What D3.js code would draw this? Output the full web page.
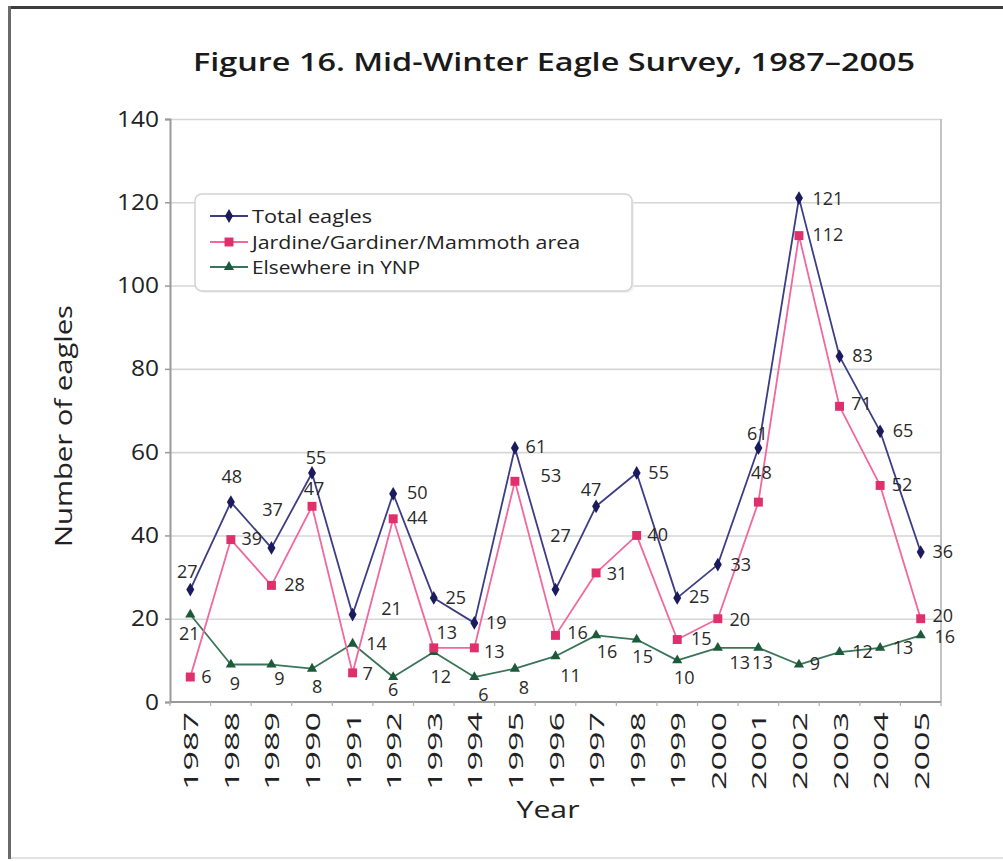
<!DOCTYPE html>
<html>
<head>
<meta charset="utf-8">
<script src="https://cdn.jsdelivr.net/npm/d3@7"></script>
<style>
  html, body { margin: 0; padding: 0; background: #fff; }
  svg { display: block; font-family: "Open Sans", "DejaVu Sans", sans-serif; }
</style>
</head>
<body>
<svg id="chart" width="1003" height="861"></svg>
<script>
// ---------- data ----------
const years = ["1987","1988","1989","1990","1991","1992","1993","1994","1995","1996","1997","1998","1999","2000","2001","2002","2003","2004","2005"];
const totalEagles = [27,48,37,55,21,50,25,19,61,27,47,55,25,33,61,121,83,65,36];
const jardineArea = [6,39,28,47,7,44,13,13,53,16,31,40,15,20,48,112,71,52,20];
const elsewhereYNP = [21,9,9,8,14,6,12,6,8,11,16,15,10,13,13,9,12,13,16];
const yTickValues = [0,20,40,60,80,100,120,140];
const seriesNames = ["Total eagles","Jardine/Gardiner/Mammoth area","Elsewhere in YNP"];
const titleText = "Figure 16. Mid-Winter Eagle Survey, 1987\u20132005";
const yAxisTitle = "Number of eagles";
const xAxisTitle = "Year";

// label placement (offset of label centre from its marker, px)
const totalLabelOffsets = [[-3,-19],[1,-26],[1,-39],[4,-16],[39,-7],[24,-2],[22,-1],[22,-1],[21,-2],[5,-55],[-5,-17],[22,-1],[22,-2],[23,-1],[-1,-15],[29,0],[23,-1],[23,-1],[22,-1]];
const jardineLabelOffsets = [[16,-1],[21,-2],[23,-1],[2,-18],[15,0],[24,-2],[13,-16],[20,3],[36,-6],[22,-3],[21,0],[21,-1],[24,-2],[22,0],[3,-30],[29,-2],[22,-3],[22,-1],[22,-4]];
const elsewhereLabelOffsets = [[-1,18],[4,18],[8,13],[5,17],[24,-1],[0,12],[7,24],[9,17],[9,18],[15,19],[11,16],[6,16],[7,17],[22,14],[4,14],[16,-2],[23,-1],[23,-1],[24,1]];

// ---------- layout ----------
const plot = {left: 170, right: 941, top: 119, bottom: 702};
const svg = d3.select("#chart");

function fit(sel, w) { sel.attr("textLength", w).attr("lengthAdjust", "spacingAndGlyphs"); }

// outer frame
svg.append("rect").attr("x", 8).attr("y", 6).attr("width", 995).attr("height", 3).attr("fill", "#3d3d3d");
svg.append("rect").attr("x", 8).attr("y", 6).attr("width", 3).attr("height", 853).attr("fill", "#6a6a6a");
svg.append("rect").attr("x", 11).attr("y", 857).attr("width", 992).attr("height", 2).attr("fill", "#e2e2e2");

const x = d3.scalePoint().domain(years).range([plot.left, plot.right]).padding(0.5);
const y = d3.scaleLinear().domain([0, 140]).range([plot.bottom, plot.top]);

// gridlines
svg.append("g")
  .attr("transform", `translate(${plot.left},0)`)
  .call(d3.axisLeft(y).tickValues(yTickValues.filter(v => v > 0)).tickSize(-(plot.right - plot.left)).tickFormat(""))
  .call(g => g.select(".domain").remove())
  .call(g => g.selectAll("line").attr("stroke", "#d6d6d6").attr("stroke-width", 1.6));

// right frame line
svg.append("line").attr("x1", plot.right).attr("x2", plot.right).attr("y1", plot.top).attr("y2", plot.bottom)
  .attr("stroke", "#c4c4c4").attr("stroke-width", 2);

// y axis
const yAxis = svg.append("g")
  .attr("transform", `translate(${plot.left},0)`)
  .call(d3.axisLeft(y).tickValues(yTickValues).tickSize(5).tickPadding(6));
yAxis.select(".domain").attr("stroke", "#9a9a9a").attr("stroke-width", 2);
yAxis.selectAll(".tick line").attr("stroke", "#9a9a9a").attr("stroke-width", 1.5);
yAxis.selectAll(".tick text")
  .attr("font-size", 22).attr("fill", "#222").attr("font-family", "Open Sans, sans-serif")
  .each(function(d) { fit(d3.select(this), String(d).length * 14); });

// x axis
const xAxis = svg.append("g")
  .attr("transform", `translate(0,${plot.bottom})`)
  .call(d3.axisBottom(x).tickSize(0).tickPadding(0));
xAxis.select(".domain").attr("stroke", "#9a9a9a").attr("stroke-width", 2)
  .attr("d", `M${plot.left},0H${plot.right}`);
xAxis.selectAll(".tick text")
  .attr("font-size", 19.5).attr("fill", "#222").attr("font-family", "Open Sans, sans-serif")
  .attr("transform", "rotate(-90)")
  .attr("text-anchor", "end")
  .attr("dominant-baseline", "central")
  .attr("x", -10).attr("y", 0).attr("dy", null)
  .each(function() { fit(d3.select(this), 78); });
// category boundary ticks
const step = x.step();
xAxis.selectAll(".bticks").data(d3.range(years.length + 1)).join("line")
  .attr("x1", i => plot.left + i * step).attr("x2", i => plot.left + i * step)
  .attr("y1", 0).attr("y2", 4).attr("stroke", "#b0b0b0").attr("stroke-width", 1.2);

// titles
svg.append("text").text(titleText)
  .attr("x", 554).attr("y", 71).attr("text-anchor", "middle")
  .attr("font-size", 26).attr("font-weight", 600).attr("fill", "#1a1a1a")
  .call(fit, 722);
svg.append("text").text(yAxisTitle)
  .attr("transform", "translate(62,426) rotate(-90)")
  .attr("text-anchor", "middle").attr("dominant-baseline", "central")
  .attr("font-size", 24).attr("fill", "#222")
  .call(fit, 242);
svg.append("text").text(xAxisTitle)
  .attr("x", 548).attr("y", 818).attr("text-anchor", "middle")
  .attr("font-size", 24).attr("fill", "#222")
  .call(fit, 63);

// series
const series = [
  {name: seriesNames[0], values: totalEagles, offsets: totalLabelOffsets, line: "#3d3d85", mark: "#1a1a5c", symbol: d3.symbolDiamond, size: 55},
  {name: seriesNames[1], values: jardineArea, offsets: jardineLabelOffsets, line: "#f2679c", mark: "#e0306c", symbol: d3.symbolSquare, size: 80},
  {name: seriesNames[2], values: elsewhereYNP, offsets: elsewhereLabelOffsets, line: "#3b7558", mark: "#1c5a3a", symbol: d3.symbolTriangle, size: 45}
];

const lineGen = d3.line().x((d, i) => x(years[i])).y(d => y(d));

// draw lines (elsewhere first, total last on top)
[2, 1, 0].forEach(k => {
  const s = series[k];
  svg.append("path").datum(s.values)
    .attr("d", lineGen).attr("fill", "none")
    .attr("stroke", s.line).attr("stroke-width", 1.8).attr("stroke-linejoin", "round");
});
[2, 1, 0].forEach(k => {
  const s = series[k];
  svg.append("g").selectAll("path").data(s.values).join("path")
    .attr("transform", (d, i) => `translate(${x(years[i])},${y(d)})`)
    .attr("d", d3.symbol().type(s.symbol).size(s.size))
    .attr("fill", s.mark);
});
// data labels
series.forEach(s => {
  svg.append("g").selectAll("text").data(s.values).join("text")
    .attr("x", (d, i) => x(years[i]) + s.offsets[i][0])
    .attr("y", (d, i) => y(d) + s.offsets[i][1])
    .attr("text-anchor", "middle").attr("dominant-baseline", "central")
    .attr("font-size", 18).attr("fill", "#2a2a2a")
    .text(d => d);
});

// legend
const lg = svg.append("g");
lg.append("rect").attr("x", 197).attr("y", 196).attr("width", 437).attr("height", 97).attr("rx", 7)
  .attr("fill", "#ececec").attr("opacity", 0.7);
lg.append("rect").attr("x", 195).attr("y", 194).attr("width", 437).attr("height", 97).attr("rx", 7)
  .attr("fill", "#fff").attr("stroke", "#d2d2d2").attr("stroke-width", 1.5);
const legendRowsY = [216, 242, 267];
const legendWidths = [120, 328, 168];
series.forEach((s, k) => {
  const cy = legendRowsY[k];
  lg.append("line").attr("x1", 210).attr("x2", 248).attr("y1", cy).attr("y2", cy)
    .attr("stroke", s.line).attr("stroke-width", 1.8);
  lg.append("path").attr("transform", `translate(229,${cy})`)
    .attr("d", d3.symbol().type(s.symbol).size(s.size)).attr("fill", s.mark);
  lg.append("text").text(s.name).attr("x", 252).attr("y", cy).attr("dominant-baseline", "central")
    .attr("font-size", 19).attr("fill", "#222").call(fit, legendWidths[k]);
});
</script>
</body>
</html>
